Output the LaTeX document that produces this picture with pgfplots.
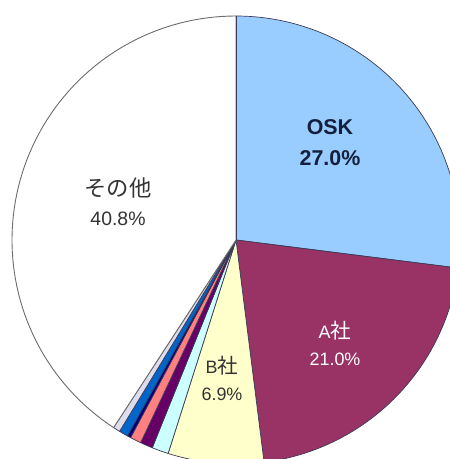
\documentclass[border=0pt]{standalone}
\usepackage{pgfplots}
\pgfplotsset{compat=1.18}
\usepackage{fontspec}
\setmainfont{Liberation Sans}
\newfontfamily\cjk[Scale=1.15]{Noto Sans CJK JP}
\definecolor{osk}{HTML}{99CCFF}
\definecolor{acol}{HTML}{993366}
\definecolor{bcol}{HTML}{FFFFCC}
\definecolor{c1}{HTML}{CCFFFF}
\definecolor{c2}{HTML}{660066}
\definecolor{c3}{HTML}{FF8080}
\definecolor{c4}{HTML}{000080}
\definecolor{c5}{HTML}{0066CC}
\definecolor{c6}{HTML}{DDDDEE}
\definecolor{edge}{HTML}{3A3A55}
\definecolor{navytxt}{HTML}{14203C}
\begin{document}
\begin{tikzpicture}
\begin{axis}[
  width=450bp, height=459bp, scale only axis,
  xmin=-236, xmax=214, ymin=-219, ymax=240,
  hide axis, clip=true,
]
% slices: start and end in percent, clockwise from top
\pgfplotsset{slice/.style={draw=edge, line width=0.7pt, samples=80, variable=\t}}
\addplot[slice, fill=osk,  domain=0:27.0]    ({224*sin(3.6*\t)},{224*cos(3.6*\t)}) -- (axis cs:0,0) -- cycle;
\addplot[slice, fill=acol, domain=27.0:48.0] ({224*sin(3.6*\t)},{224*cos(3.6*\t)}) -- (axis cs:0,0) -- cycle;
\addplot[slice, fill=bcol, domain=48.0:54.9] ({224*sin(3.6*\t)},{224*cos(3.6*\t)}) -- (axis cs:0,0) -- cycle;
\addplot[slice, fill=c1,   domain=54.9:56.1] ({224*sin(3.6*\t)},{224*cos(3.6*\t)}) -- (axis cs:0,0) -- cycle;
\addplot[slice, fill=c2,   domain=56.1:57.0] ({224*sin(3.6*\t)},{224*cos(3.6*\t)}) -- (axis cs:0,0) -- cycle;
\addplot[slice, fill=c3,   domain=57.0:57.8] ({224*sin(3.6*\t)},{224*cos(3.6*\t)}) -- (axis cs:0,0) -- cycle;
\addplot[slice, fill=c4,   domain=57.8:58.05] ({224*sin(3.6*\t)},{224*cos(3.6*\t)}) -- (axis cs:0,0) -- cycle;
\addplot[slice, fill=c5,   domain=58.05:58.7] ({224*sin(3.6*\t)},{224*cos(3.6*\t)}) -- (axis cs:0,0) -- cycle;
\addplot[slice, fill=c6,   domain=58.7:59.2] ({224*sin(3.6*\t)},{224*cos(3.6*\t)}) -- (axis cs:0,0) -- cycle;
\addplot[slice, fill=white, draw=gray!85!black, line width=0.9pt, domain=59.2:100] ({224*sin(3.6*\t)},{224*cos(3.6*\t)}) -- (axis cs:0,0) -- cycle;
\addplot[draw=edge, line width=0.7pt] coordinates {(0,0) (0,224)};
\node[align=center, text=navytxt, font=\fontsize{21.5}{31}\selectfont\bfseries] at (axis cs:94,97) {OSK\\27.0\%};
\node[align=center, text=white, font=\fontsize{18}{27}\selectfont] at (axis cs:99,-103) {A{\cjk 社}\\21.0\%};
\node[align=center, text=black!80, font=\fontsize{18}{27}\selectfont] at (axis cs:-14,-138) {B{\cjk 社}\\6.9\%};
\node[align=center, text=black!80, font=\fontsize{19.5}{29}\selectfont] at (axis cs:-118,38) {{\cjk その他}\\40.8\%};
\end{axis}
\pgfresetboundingbox
\useasboundingbox (current axis.south west) rectangle (current axis.north east);
\end{tikzpicture}
\end{document}
